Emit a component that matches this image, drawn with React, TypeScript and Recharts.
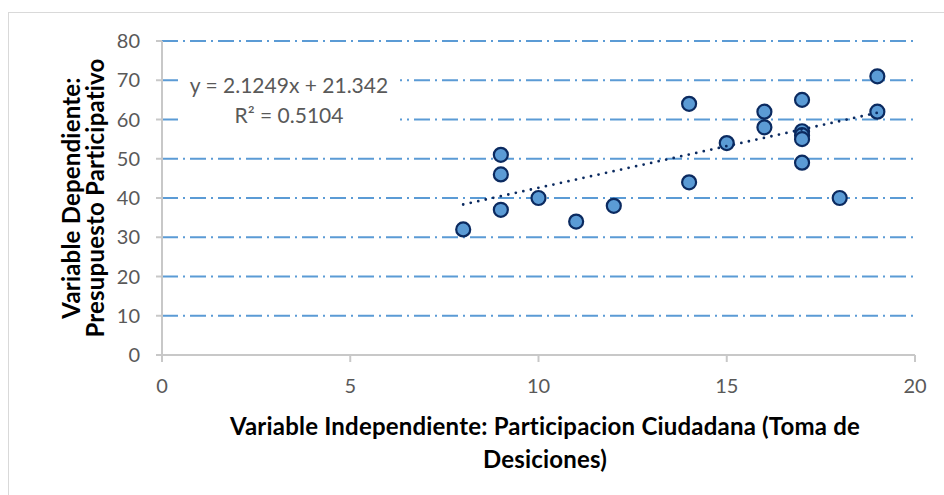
import React from 'react';
import { ScatterChart, Scatter, XAxis, YAxis, CartesianGrid } from 'recharts';

// puntos (toma de decisiones, presupuesto participativo)
const X_VALUES = [8, 9, 9, 9, 10, 11, 12, 14, 14, 15, 16, 16, 17, 17, 17, 17, 17, 18, 19, 19];
const Y_VALUES = [32, 51, 46, 37, 40, 34, 38, 64, 44, 54, 62, 58, 65, 57, 56, 55, 49, 40, 71, 62];

const X_TICKS = [0, 5, 10, 15, 20];
const Y_TICKS = [0, 10, 20, 30, 40, 50, 60, 70, 80];

// linea de tendencia lineal (Excel)
const SLOPE = 2.1249;
const INTERCEPT = 21.342;
const TREND_X = [8, 19];

const EQUATION = 'y = 2.1249x + 21.342';
const R_SQUARED = 'R² = 0.5104';

const X_TITLE = ['Variable Independiente: Participacion Ciudadana (Toma de', 'Desiciones)'];
const Y_TITLE = ['Variable Dependiente:', 'Presupuesto Participativo'];

const points = X_VALUES.map((x, i) => ({ x, y: Y_VALUES[i] }));
const trend = TREND_X.map((x) => ({ x, y: SLOPE * x + INTERCEPT }));

const FONT = 'Lato, "Open Sans", sans-serif';
const AXIS_GREY = '#C8C8C8';
const TICK_STYLE = { fill: '#595959', fontSize: 20, fontFamily: FONT };

const Dot = (props: any) => (
  <circle cx={props.cx} cy={props.cy} r={7} fill="#5B9BD5" stroke="#0B2A60" strokeWidth={2.2} />
);

export default function App() {
  return (
    <div style={{ position: 'absolute', left: 0, top: 0, width: 944, height: 495, background: '#fff', overflow: 'hidden', fontFamily: FONT }}>
      <div style={{ position: 'absolute', left: 8, top: 12, width: 940, height: 490, border: '1px solid #D9D9D9', boxSizing: 'border-box' }} />
      <ScatterChart width={944} height={495} margin={{ top: 41, right: 29, bottom: 0, left: 0 }}>
        <CartesianGrid vertical={false} stroke="#5B9BD5" strokeWidth={2} strokeDasharray="16 5 2 5" />
        <XAxis
          type="number"
          dataKey="x"
          domain={[0, 20]}
          ticks={X_TICKS}
          height={140}
          tickSize={7}
          tickMargin={17}
          tick={TICK_STYLE}
          axisLine={{ stroke: AXIS_GREY, strokeWidth: 2 }}
          tickLine={{ stroke: AXIS_GREY, strokeWidth: 2 }}
        />
        <YAxis
          type="number"
          dataKey="y"
          domain={[0, 80]}
          ticks={Y_TICKS}
          width={162}
          tickSize={6}
          tickMargin={16}
          tick={TICK_STYLE}
          axisLine={{ stroke: AXIS_GREY, strokeWidth: 2 }}
          tickLine={{ stroke: AXIS_GREY, strokeWidth: 2 }}
        />
        <Scatter data={points} shape={Dot} isAnimationActive={false} />
        <Scatter
          data={trend}
          shape={() => <g />}
          line={{ stroke: '#0B2A60', strokeWidth: 2.8, strokeDasharray: '0 7.7', strokeLinecap: 'round' }}
          isAnimationActive={false}
        />
      </ScatterChart>

      {/* etiqueta de la ecuacion */}
      <div
        style={{
          position: 'absolute', left: 178, top: 70, width: 222, height: 60, background: '#fff',
          textAlign: 'center', color: '#595959', fontSize: 21, lineHeight: '30px', whiteSpace: 'nowrap',
        }}
      >
        <div>{EQUATION}</div>
        <div>{R_SQUARED}</div>
      </div>

      {/* titulo eje x */}
      <div
        style={{
          position: 'absolute', left: 195, top: 409, width: 700, textAlign: 'center',
          fontWeight: 700, fontSize: 24, lineHeight: '33px', letterSpacing: 0.2, color: '#000', whiteSpace: 'nowrap',
        }}
      >
        <div>{X_TITLE[0]}</div>
        <div>{X_TITLE[1]}</div>
      </div>

      {/* titulo eje y */}
      <div
        style={{
          position: 'absolute', left: 84 - 170, top: 198 - 25, width: 340, height: 50,
          transform: 'rotate(-90deg)', textAlign: 'center', fontWeight: 700, fontSize: 24,
          lineHeight: '24px', letterSpacing: 0.2, color: '#000', whiteSpace: 'nowrap',
        }}
      >
        <div>{Y_TITLE[0]}</div>
        <div>{Y_TITLE[1]}</div>
      </div>
    </div>
  );
}
